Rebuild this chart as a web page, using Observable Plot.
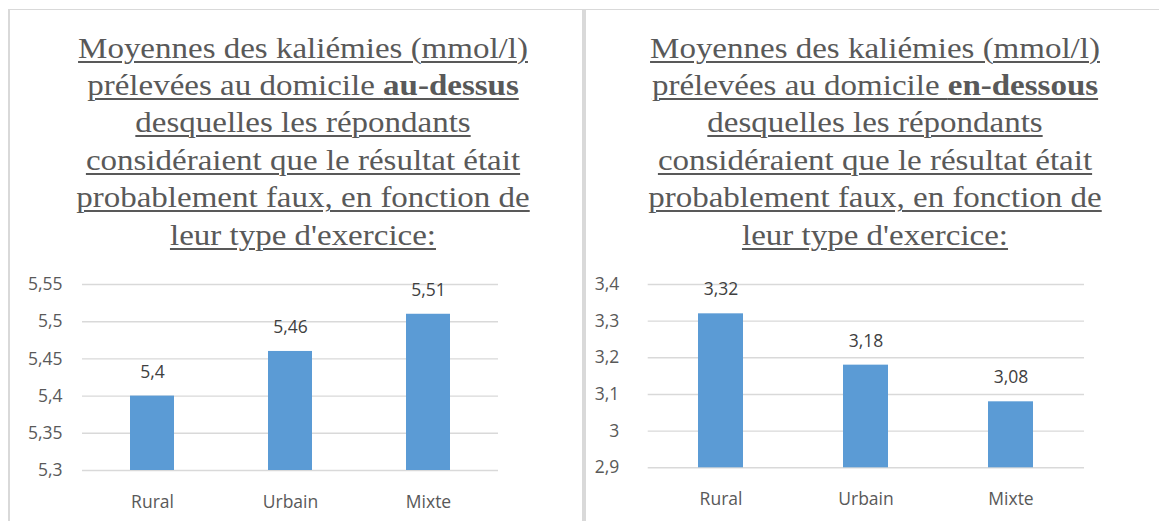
<!DOCTYPE html>
<html>
<head>
<meta charset="utf-8">
<script src="https://cdn.jsdelivr.net/npm/d3@7"></script>
<script src="https://cdn.jsdelivr.net/npm/@observablehq/plot@0.6"></script>
<style>
  html, body { margin: 0; padding: 0; background: #fff; width: 1159px; height: 521px; overflow: hidden; }
  .panel { position: absolute; box-sizing: border-box; border-top: 1.5px solid #d9d9d9; border-left: 2px solid #d9d9d9; }
  #pl { left: 8px; top: 9px; width: 576px; height: 530px; border-right: 2px solid #d9d9d9; }
  #pr { left: 584px; top: 9px; width: 590px; height: 530px; }
  .title { position: absolute; top: 29.6px; width: 560px; text-align: center;
    font-family: "Liberation Serif", "Times New Roman", serif; font-size: 28.7px; line-height: 37.4px;
    color: #595959; text-decoration: underline; text-decoration-thickness: 1.5px; text-underline-offset: 3px;
    transform: scaleX(1.15); transform-origin: center top; white-space: nowrap; }
  .title b { font-weight: bold; }
  #tl { left: 23px; }
  #tr { left: 595px; }
  .chart { position: absolute; top: 260px; }
  #cl { left: 0px; }
  #cr { left: 580px; }
</style>
</head>
<body>
<div class="panel" id="pl"></div>
<div class="panel" id="pr"></div>
<div class="title" id="tl"></div>
<div class="title" id="tr"></div>
<div class="chart" id="cl"></div>
<div class="chart" id="cr"></div>
<script>
const categories = ["Rural", "Urbain", "Mixte"];
const leftValues = [5.4, 5.46, 5.51];
const rightValues = [3.32, 3.18, 3.08];
const leftTicks = [5.3, 5.35, 5.4, 5.45, 5.5, 5.55];
const rightTicks = [2.9, 3, 3.1, 3.2, 3.3, 3.4];
const leftTitle = ["Moyennes des kaliémies (mmol/l)", "prélevées au domicile <b>au-dessus</b>", "desquelles les répondants", "considéraient que le résultat était", "probablement faux, en fonction de", "leur type d'exercice:"];
const rightTitle = ["Moyennes des kaliémies (mmol/l)", "prélevées au domicile <b>en-dessous</b>", "desquelles les répondants", "considéraient que le résultat était", "probablement faux, en fonction de", "leur type d'exercice:"];

document.getElementById("tl").innerHTML = leftTitle.join("<br>");
document.getElementById("tr").innerHTML = rightTitle.join("<br>");

const fmt = d => String(d).replace(".", ",");
const FONT = "'Open Sans', sans-serif";
const FS = 17.5;

function chart(values, ticks, opts) {
  const data = categories.map((c, i) => ({cat: c, value: values[i]}));
  const lo = ticks[0], hi = ticks[ticks.length - 1];
  return Plot.plot({
    width: opts.width, height: 261,
    marginLeft: opts.ml, marginRight: opts.mr, marginTop: 24, marginBottom: opts.mb,
    style: {fontFamily: FONT, fontSize: FS + "px", color: "#595959", background: "transparent", overflow: "visible"},
    x: {domain: categories, paddingInner: opts.pi, paddingOuter: opts.pi / 2, label: null, tickSize: 0, tickPadding: opts.xpad},
    y: {domain: [lo, hi], ticks: ticks, tickFormat: fmt, label: null, tickSize: 0, tickPadding: opts.ypad},
    marks: [
      Plot.ruleY(ticks, {stroke: "#d9d9d9", strokeWidth: 1.4}),
      Plot.barY(data, {x: "cat", y1: lo, y2: "value", fill: "#5b9bd5"}),
      Plot.text(data, {x: "cat", y: "value", text: d => fmt(d.value), dy: -24, fill: "#404040", fontSize: FS})
    ]
  });
}

document.getElementById("cl").appendChild(chart(leftValues, leftTicks, {width: 580, ml: 82, mr: 82, mb: 51, pi: 0.68, xpad: 25, ypad: 20}));
document.getElementById("cr").appendChild(chart(rightValues, rightTicks, {width: 579, ml: 67.7, mr: 75, mb: 53.7, pi: 0.69, xpad: 25, ypad: 29}));
</script>
</body>
</html>
